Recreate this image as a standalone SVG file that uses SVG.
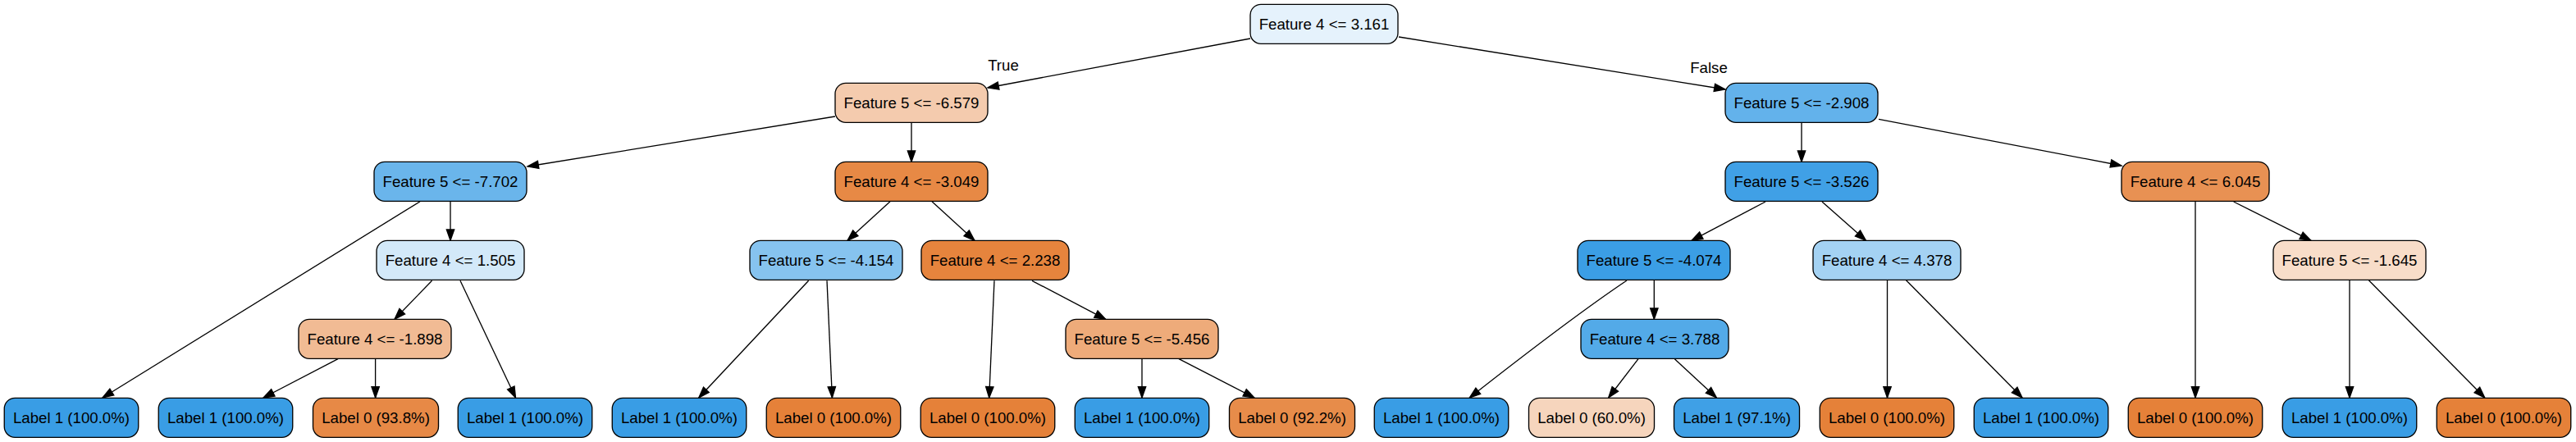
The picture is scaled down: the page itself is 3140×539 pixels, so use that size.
<svg xmlns="http://www.w3.org/2000/svg" width="3140" height="539" viewBox="0 0 3140 539">
<style>
.node rect{stroke:#000;stroke-width:1.33}
text{font-family:"Liberation Sans",Arial,Helvetica,sans-serif;font-size:18.67px;text-anchor:middle;fill:#000}
.edges path{fill:none;stroke:#000;stroke-width:1.33;marker-end:url(#arrow)}
.b0{fill:#e58139}.b1{fill:#399de5}
</style>
<defs>
<marker id="arrow" markerUnits="userSpaceOnUse" viewBox="-1 -1 16 12" markerWidth="16" markerHeight="12" refX="13.33" refY="4.67" orient="auto" overflow="visible">
<path d="M0,0 L13.33,4.67 L0,9.33 Z" fill="#000" stroke="#000" stroke-width="1.33"/>
</marker>
</defs>
<rect width="3140" height="539" fill="#fff"/>
<g id="connectors" class="edges">
<path d="M1524,47 L1204,107"/>
<path d="M1705,45 L2103,109"/>
<path d="M1018,142 L643,203"/>
<path d="M1111,149.3 L1111,197.3"/>
<path d="M2196,149.3 L2196,197.3"/>
<path d="M2290,145.3 L2586,202"/>
<path d="M512,245.7 L125,485"/>
<path d="M549,245.3 L549,293.3"/>
<path d="M1085,245.7 L1033,293.3"/>
<path d="M1136,245.7 L1188,293.3"/>
<path d="M2152,246 L2062,293.3"/>
<path d="M2221,246 L2274.5,293.3"/>
<path d="M2676,245.3 L2676,485"/>
<path d="M2722.7,246 L2817,293.3"/>
<path d="M526.5,342.3 L481,389.3"/>
<path d="M561,342.3 L628.5,485"/>
<path d="M985.6,342.3 L851.8,485"/>
<path d="M1008,342.3 L1014.4,485"/>
<path d="M1212,342.3 L1205.7,485"/>
<path d="M1258,342.3 L1347.7,389.3"/>
<path d="M1983,342 Q1916,387 1791.3,485"/>
<path d="M2016.3,341.3 L2016.3,389.3"/>
<path d="M2300.5,341.3 L2300.5,485"/>
<path d="M2323.5,341.7 L2465,485"/>
<path d="M2864,341.3 L2864,485"/>
<path d="M2887.4,341.7 L3028.8,485"/>
<path d="M412,437.7 L321,485"/>
<path d="M457.6,437.3 L457.6,485"/>
<path d="M1392,437.3 L1392,485"/>
<path d="M1437,437.7 L1529,485"/>
<path d="M1997,437.7 L1960.7,485"/>
<path d="M2041.3,437.7 L2092.3,485"/>
<text x="1223" y="86">True</text>
<text x="2083" y="88.5">False</text>
</g>
<g id="n0" class="node"><rect x="1524" y="5.33" width="180" height="48" rx="13" fill="#e5f2fc"/><text x="1614" y="35.5">Feature 4 &lt;= 3.161</text></g>
<g id="n1" class="node"><rect x="1018" y="101.33" width="186" height="48" rx="13" fill="#f4cbae"/><text x="1111" y="131.5">Feature 5 &lt;= -6.579</text></g>
<g id="n2" class="node"><rect x="2103" y="101.33" width="186" height="48" rx="13" fill="#63b2eb"/><text x="2196" y="131.5">Feature 5 &lt;= -2.908</text></g>
<g id="n3" class="node"><rect x="456" y="197.33" width="186" height="48" rx="13" fill="#6ab5eb"/><text x="549" y="227.5">Feature 5 &lt;= -7.702</text></g>
<g id="n4" class="node"><rect x="1018" y="197.33" width="186" height="48" rx="13" fill="#e78945"/><text x="1111" y="227.5">Feature 4 &lt;= -3.049</text></g>
<g id="n5" class="node"><rect x="2103" y="197.33" width="186" height="48" rx="13" fill="#40a0e6"/><text x="2196" y="227.5">Feature 5 &lt;= -3.526</text></g>
<g id="n6" class="node"><rect x="2586" y="197.33" width="180" height="48" rx="13" fill="#e89153"/><text x="2676" y="227.5">Feature 4 &lt;= 6.045</text></g>
<g id="n7" class="node"><rect x="459" y="293.33" width="180" height="48" rx="13" fill="#d3e9f9"/><text x="549" y="323.5">Feature 4 &lt;= 1.505</text></g>
<g id="n8" class="node"><rect x="914" y="293.33" width="186" height="48" rx="13" fill="#86c3ef"/><text x="1007" y="323.5">Feature 5 &lt;= -4.154</text></g>
<g id="n9" class="node"><rect x="1123" y="293.33" width="180" height="48" rx="13" fill="#e6843d"/><text x="1213" y="323.5">Feature 4 &lt;= 2.238</text></g>
<g id="n10" class="node"><rect x="1923" y="293.33" width="186" height="48" rx="13" fill="#3b9ee5"/><text x="2016" y="323.5">Feature 5 &lt;= -4.074</text></g>
<g id="n11" class="node"><rect x="2210" y="293.33" width="180" height="48" rx="13" fill="#a4d2f3"/><text x="2300" y="323.5">Feature 4 &lt;= 4.378</text></g>
<g id="n12" class="node"><rect x="2771" y="293.33" width="186" height="48" rx="13" fill="#f8ddc9"/><text x="2864" y="323.5">Feature 5 &lt;= -1.645</text></g>
<g id="n13" class="node"><rect x="364" y="389.33" width="186" height="48" rx="13" fill="#f1bb94"/><text x="457" y="419.5">Feature 4 &lt;= -1.898</text></g>
<g id="n14" class="node"><rect x="1299" y="389.33" width="186" height="48" rx="13" fill="#eeab7a"/><text x="1392" y="419.5">Feature 5 &lt;= -5.456</text></g>
<g id="n15" class="node"><rect x="1927" y="389.33" width="180" height="48" rx="13" fill="#53aae8"/><text x="2017" y="419.5">Feature 4 &lt;= 3.788</text></g>
<g id="l1" class="node"><rect class="b1" x="5.25" y="485.33" width="163.5" height="48" rx="13"/><text x="87" y="515.5">Label 1 (100.0%)</text></g>
<g id="l2" class="node"><rect class="b1" x="193.25" y="485.33" width="163.5" height="48" rx="13"/><text x="275" y="515.5">Label 1 (100.0%)</text></g>
<g id="l3" class="node"><rect x="381.5" y="485.33" width="153" height="48" rx="13" fill="#e78946"/><text x="458" y="515.5">Label 0 (93.8%)</text></g>
<g id="l4" class="node"><rect class="b1" x="558.25" y="485.33" width="163.5" height="48" rx="13"/><text x="640" y="515.5">Label 1 (100.0%)</text></g>
<g id="l5" class="node"><rect class="b1" x="746.25" y="485.33" width="163.5" height="48" rx="13"/><text x="828" y="515.5">Label 1 (100.0%)</text></g>
<g id="l6" class="node"><rect class="b0" x="934.25" y="485.33" width="163.5" height="48" rx="13"/><text x="1016" y="515.5">Label 0 (100.0%)</text></g>
<g id="l7" class="node"><rect class="b0" x="1122.25" y="485.33" width="163.5" height="48" rx="13"/><text x="1204" y="515.5">Label 0 (100.0%)</text></g>
<g id="l8" class="node"><rect class="b1" x="1310.25" y="485.33" width="163.5" height="48" rx="13"/><text x="1392" y="515.5">Label 1 (100.0%)</text></g>
<g id="l9" class="node"><rect x="1498.5" y="485.33" width="153" height="48" rx="13" fill="#e78c4a"/><text x="1575" y="515.5">Label 0 (92.2%)</text></g>
<g id="l10" class="node"><rect class="b1" x="1675.25" y="485.33" width="163.5" height="48" rx="13"/><text x="1757" y="515.5">Label 1 (100.0%)</text></g>
<g id="l11" class="node"><rect x="1863.5" y="485.33" width="153" height="48" rx="13" fill="#f6d5bd"/><text x="1940" y="515.5">Label 0 (60.0%)</text></g>
<g id="l12" class="node"><rect x="2040.5" y="485.33" width="153" height="48" rx="13" fill="#3fa0e6"/><text x="2117" y="515.5">Label 1 (97.1%)</text></g>
<g id="l13" class="node"><rect class="b0" x="2218.25" y="485.33" width="163.5" height="48" rx="13"/><text x="2300" y="515.5">Label 0 (100.0%)</text></g>
<g id="l14" class="node"><rect class="b1" x="2406.25" y="485.33" width="163.5" height="48" rx="13"/><text x="2488" y="515.5">Label 1 (100.0%)</text></g>
<g id="l15" class="node"><rect class="b0" x="2594.25" y="485.33" width="163.5" height="48" rx="13"/><text x="2676" y="515.5">Label 0 (100.0%)</text></g>
<g id="l16" class="node"><rect class="b1" x="2782.25" y="485.33" width="163.5" height="48" rx="13"/><text x="2864" y="515.5">Label 1 (100.0%)</text></g>
<g id="l17" class="node"><rect class="b0" x="2970.25" y="485.33" width="163.5" height="48" rx="13"/><text x="3052" y="515.5">Label 0 (100.0%)</text></g>
</svg>
